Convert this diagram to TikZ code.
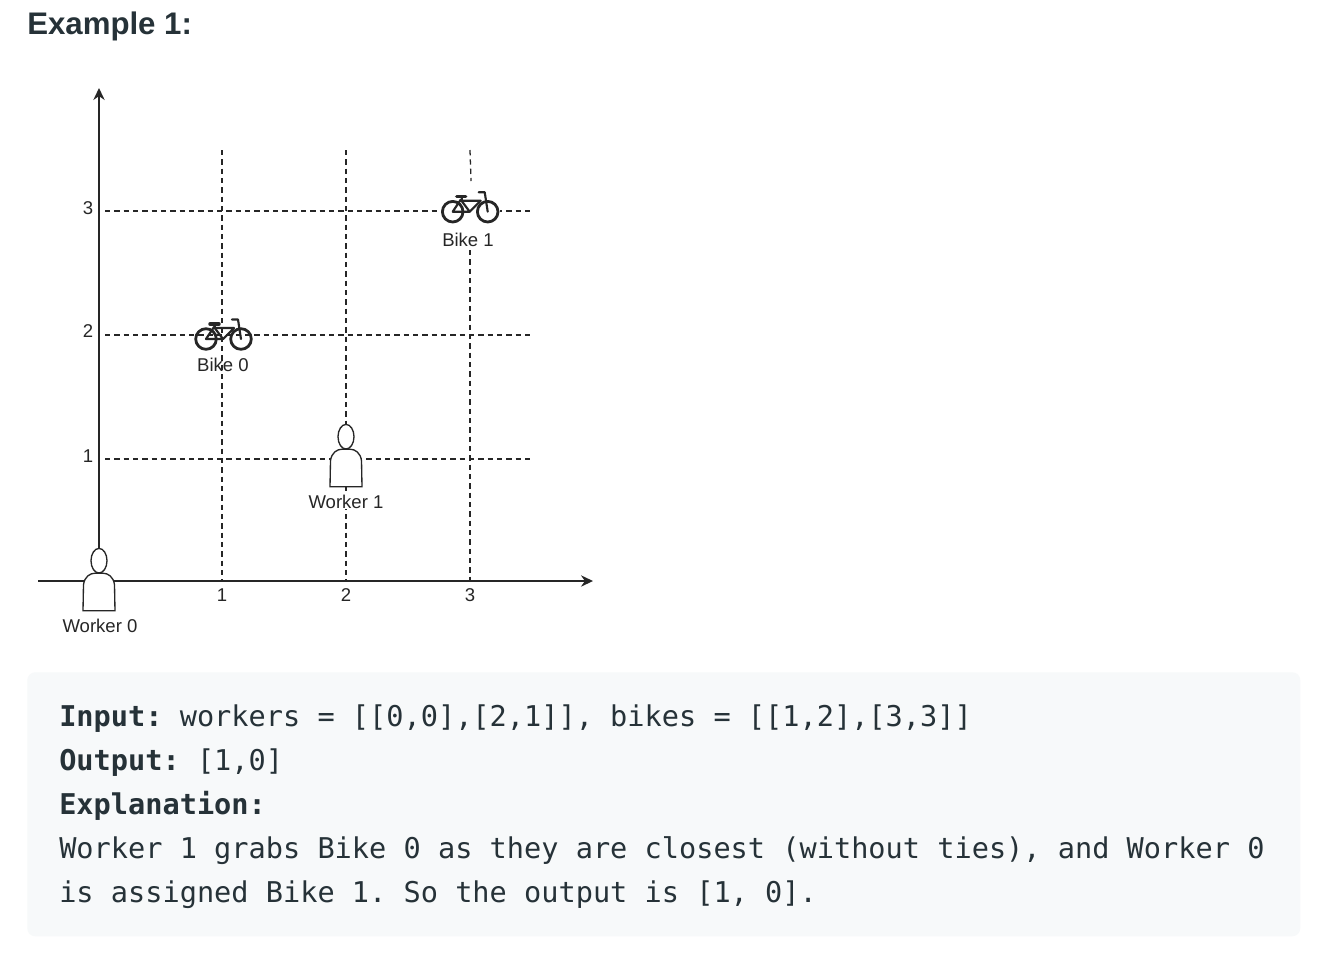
\documentclass[tikz,border=0pt]{standalone}
\usepackage{fontspec}
\setmainfont{Liberation Sans}
\setmonofont{DejaVu Sans Mono}
\usetikzlibrary{arrows.meta}
\definecolor{ink}{HTML}{263238}
\definecolor{panel}{HTML}{F7F9FA}
\definecolor{figink}{HTML}{262626}
\newcommand{\labelsize}{\fontsize{13.9pt}{16pt}\selectfont}
\newcommand{\codesize}{\fontsize{21.45pt}{33pt}\selectfont\ttfamily}
\tikzset{
  x=0.75pt,y=-0.75pt,
  axisline/.style={draw=figink,line width=1.15pt,-{Stealth[length=9pt,width=8.5pt]}},
  gridline/.style={draw=figink,line width=0.95pt,dash pattern=on 4pt off 3pt},
  figlabel/.style={text=figink,font=\labelsize,inner sep=0pt,anchor=center},
  codeline/.style={text=ink,font=\codesize,inner sep=0pt,anchor=base west},
  bikestroke/.style={draw=figink,line width=1.6pt,line cap=round,line join=round},
  personstroke/.style={draw=figink,line width=1pt,fill=white},
  pics/bike/.style={code={
    \draw[bikestroke,line width=2.1pt] (0,0) circle[radius=10.3];
    \draw[bikestroke,line width=2.1pt] (35,0) circle[radius=10.3];
    \draw[bikestroke] (0,0) -- (17,0) -- (8,-12) -- cycle;
    \draw[bikestroke] (17,0) -- (28,-11) -- (9,-11);
    \draw[bikestroke,line width=2.6pt] (4,-15) -- (13,-15);
    \draw[bikestroke] (9,-15) -- (9,-11);
    \draw[bikestroke] (35,0) -- (32,-19.5) -- (26,-19.5);
  }},
  pics/person/.style={code={
    \draw[personstroke] (-16,50) -- (16,50) -- (15.5,24) .. controls (14.5,16) and (9,12.5) .. (4,12.5)
      -- (-4,12.5) .. controls (-9,12.5) and (-14.5,16) .. (-15.5,24) -- cycle;
    \draw[personstroke] (0,0) ellipse[x radius=8,y radius=12.3];
  }}
}
\begin{document}
\begin{tikzpicture}
\useasboundingbox (0,0) rectangle (1326,958);
\fill[white] (0,0) rectangle (1326,958);
% named ends
\coordinate (xs) at (38,581); \coordinate (xe) at (593,581);
\coordinate (ys) at (99,581); \coordinate (ye) at (99,88);
\coordinate (v1t) at (222,150); \coordinate (v1b) at (222,581);
\coordinate (v2t) at (346,150); \coordinate (v2b) at (346,581);
\coordinate (v3t) at (470,150); \coordinate (v3m) at (471,181);
\coordinate (v3n) at (470,250); \coordinate (v3b) at (470,581);
\coordinate (h3s) at (105,211); \coordinate (h3e) at (532,211);
\coordinate (h2s) at (105,335); \coordinate (h2e) at (532,335);
\coordinate (h1s) at (105,459); \coordinate (h1e) at (532,459);
% panel
\node[fill=panel,rounded corners=6pt,inner sep=0pt,minimum width=954.75pt,minimum height=198pt,anchor=north west] (panelbox) at (27,672) {};
% grid
\draw[gridline] (v1t) -- (v1b);
\draw[gridline] (v2t) -- (v2b);
\draw[gridline] (v3t) -- (v3m);
\draw[gridline] (v3n) -- (v3b);
\draw[gridline] (h3s) -- (h3e);
\draw[gridline] (h2s) -- (h2e);
\draw[gridline] (h1s) -- (h1e);
% axes
\draw[axisline] (xs) -- (xe);
\draw[axisline] (ys) -- (ye);
% figures
\fill[white] (441,199) rectangle (500,224);
\pic at (452.7,211.7) {bike};
\pic at (206,339) {bike};
\pic at (346,436.7) {person};
\pic at (99,560.7) {person};
% labels
\node[figlabel] (bike1) at (468,239.5) {Bike 1};
\node[figlabel] (bike0) at (223,365) {Bike 0};
\node[figlabel,fill=white,inner xsep=2pt] (worker1) at (346,502) {Worker 1};
\node[figlabel] (worker0) at (100,626) {Worker 0};
\node[figlabel] (ty3) at (88,208.5) {3};
\node[figlabel] (ty2) at (88,331.5) {2};
\node[figlabel] (ty1) at (88,456) {1};
\node[figlabel] (tx1) at (222,595.5) {1};
\node[figlabel] (tx2) at (346,595.5) {2};
\node[figlabel] (tx3) at (470,595.5) {3};
% heading
\node[text=ink,font=\fontsize{23.4pt}{28pt}\selectfont\bfseries,inner sep=0pt,anchor=base west] (heading) at (27,34) {Example 1:};
% code
\node[codeline] (l1) at (59,726) {\textbf{Input:} workers = [[0,0],[2,1]], bikes = [[1,2],[3,3]]};
\node[codeline] (l2) at (59,770) {\textbf{Output:} [1,0]};
\node[codeline] (l3) at (59,814) {\textbf{Explanation:}};
\node[codeline] (l4) at (59,858) {Worker 1 grabs Bike 0 as they are closest (without ties), and Worker 0};
\node[codeline] (l5) at (59,902) {is assigned Bike 1. So the output is [1, 0].};
\end{tikzpicture}
\end{document}
